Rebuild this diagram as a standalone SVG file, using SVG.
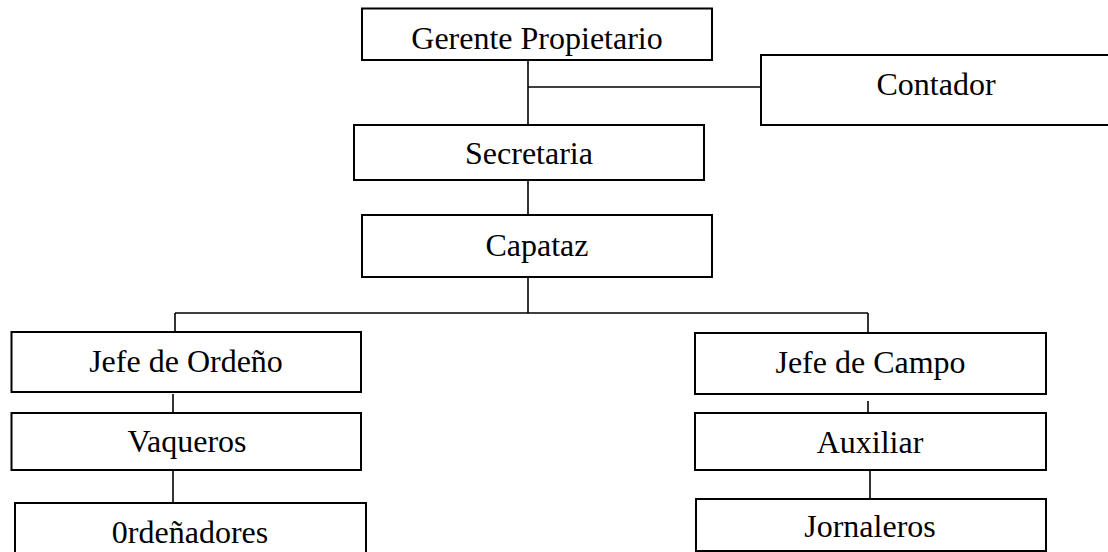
<svg xmlns="http://www.w3.org/2000/svg" width="1108" height="552" viewBox="0 0 1108 552">
<style>
.box{fill:#fff;stroke:#000;stroke-width:2}
.lbl{font-family:"Liberation Serif","Times New Roman",serif;font-size:32px;fill:#000;text-anchor:middle}
.conn line{stroke:#000;stroke-width:1.6}
</style>
<rect width="1108" height="552" fill="#fff"/>
<g id="connectors" class="conn">
<line x1="528" y1="60" x2="528" y2="125"/>
<line x1="528" y1="87" x2="761" y2="87"/>
<line x1="528" y1="180" x2="528" y2="215"/>
<line x1="528" y1="273" x2="528" y2="313"/>
<line x1="175" y1="313" x2="868" y2="313"/>
<line x1="175" y1="313" x2="175" y2="332"/>
<line x1="868" y1="313" x2="868" y2="333"/>
<line x1="173" y1="394" x2="173" y2="413"/>
<line x1="173" y1="470" x2="173" y2="503"/>
<line x1="868" y1="401" x2="868" y2="417"/>
<line x1="870" y1="464" x2="870" y2="499"/>
</g>
<g id="gerente"><rect class="box" x="362" y="8.5" width="350" height="51.5"/><text class="lbl" x="537" y="49">Gerente Propietario</text></g>
<g id="contador"><rect class="box" x="761" y="55" width="370" height="70"/><text class="lbl" x="936" y="95">Contador</text></g>
<g id="secretaria"><rect class="box" x="354" y="125" width="350" height="55"/><text class="lbl" x="529" y="164">Secretaria</text></g>
<g id="capataz"><rect class="box" x="362" y="215" width="350" height="62"/><text class="lbl" x="537" y="256">Capataz</text></g>
<g id="jefe-ordeno"><rect class="box" x="11.5" y="332" width="349.5" height="60"/><text class="lbl" x="186" y="372">Jefe de Ordeño</text></g>
<g id="vaqueros"><rect class="box" x="11.5" y="413" width="349.5" height="57"/><text class="lbl" x="187" y="452">Vaqueros</text></g>
<g id="ordenadores"><rect class="box" x="15" y="503" width="351" height="60"/><text class="lbl" x="190" y="543">0rdeñadores</text></g>
<g id="jefe-campo"><rect class="box" x="695" y="333" width="351" height="61"/><text class="lbl" x="870.5" y="373">Jefe de Campo</text></g>
<g id="auxiliar"><rect class="box" x="695" y="413" width="351" height="57"/><text class="lbl" x="870" y="453">Auxiliar</text></g>
<g id="jornaleros"><rect class="box" x="696" y="499" width="350" height="52"/><text class="lbl" x="870" y="537">Jornaleros</text></g>
</svg>
